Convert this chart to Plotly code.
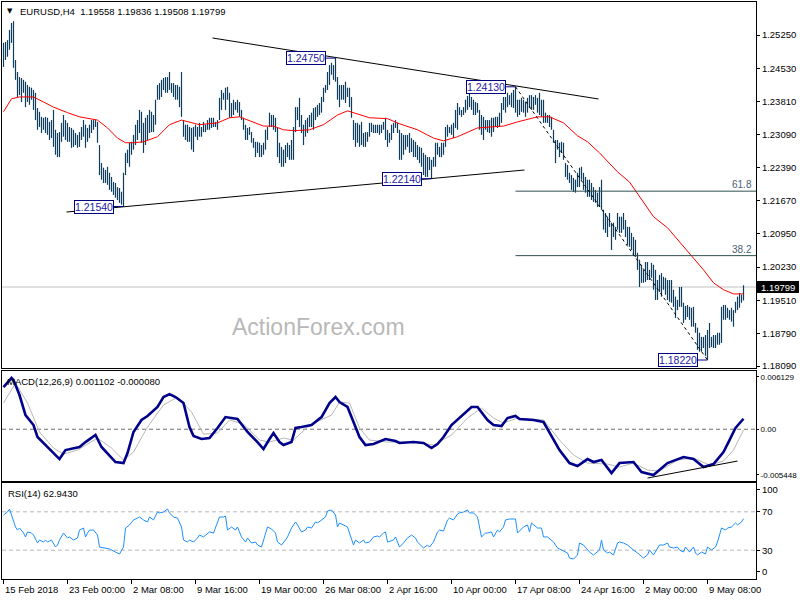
import plotly.graph_objects as go

# ---------------- data (EURUSD H4) ----------------
highs = [
1.2508,1.2510,1.2514,1.2536,1.2551,1.2555,1.2471,1.2445,1.2434,1.2432,
1.2428,1.2424,1.2417,1.2413,1.2411,1.2406,1.2400,1.2367,1.2359,1.2348,
1.2346,1.2348,1.2346,1.2337,1.2341,1.2363,1.2320,1.2313,1.2315,1.2335,
1.2352,1.2341,1.2335,1.2326,1.2324,1.2320,1.2313,1.2309,1.2315,1.2326,
1.2341,1.2331,1.2324,1.2331,1.2341,1.2341,1.2341,1.2337,1.2287,1.2248,
1.2238,1.2233,1.2240,1.2227,1.2218,1.2207,1.2205,1.2196,1.2194,1.2186,
1.2227,1.2270,1.2277,1.2292,1.2294,1.2309,1.2331,1.2341,1.2363,1.2359,
1.2335,1.2346,1.2352,1.2363,1.2359,1.2352,1.2385,1.2417,1.2421,1.2428,
1.2432,1.2434,1.2434,1.2445,1.2421,1.2421,1.2417,1.2417,1.2413,1.2445,
1.2341,1.2331,1.2331,1.2326,1.2324,1.2326,1.2331,1.2326,1.2335,1.2326,
1.2337,1.2331,1.2341,1.2346,1.2346,1.2346,1.2337,1.2341,1.2389,1.2406,
1.2400,1.2411,1.2413,1.2400,1.2378,1.2385,1.2380,1.2385,1.2380,1.2363,
1.2346,1.2331,1.2324,1.2326,1.2315,1.2302,1.2294,1.2294,1.2292,1.2287,
1.2292,1.2320,1.2326,1.2357,1.2352,1.2352,1.2346,1.2324,1.2292,1.2283,
1.2277,1.2287,1.2292,1.2287,1.2298,1.2326,1.2369,1.2369,1.2389,1.2352,
1.2331,1.2341,1.2346,1.2352,1.2357,1.2367,1.2369,1.2374,1.2378,1.2391,
1.2411,1.2417,1.2445,1.2460,1.2465,1.2460,1.2475,1.2434,1.2417,1.2417,
1.2417,1.2424,1.2411,1.2411,1.2391,1.2341,1.2335,1.2335,1.2331,1.2337,
1.2313,1.2315,1.2315,1.2335,1.2335,1.2331,1.2331,1.2331,1.2331,1.2331,
1.2337,1.2346,1.2320,1.2313,1.2331,1.2335,1.2341,1.2335,1.2320,1.2313,
1.2309,1.2309,1.2309,1.2313,1.2302,1.2298,1.2294,1.2287,1.2283,1.2281,
1.2270,1.2266,1.2261,1.2261,1.2255,1.2261,1.2292,1.2292,1.2283,1.2292,
1.2292,1.2326,1.2331,1.2326,1.2331,1.2335,1.2363,1.2378,1.2369,1.2363,
1.2369,1.2385,1.2393,1.2398,1.2391,1.2385,1.2380,1.2378,1.2363,1.2352,
1.2348,1.2341,1.2341,1.2341,1.2346,1.2346,1.2348,1.2348,1.2357,1.2378,
1.2391,1.2391,1.2400,1.2395,1.2400,1.2406,1.2413,1.2385,1.2385,1.2389,
1.2385,1.2380,1.2389,1.2395,1.2395,1.2391,1.2395,1.2389,1.2400,1.2385,
1.2385,1.2357,1.2352,1.2352,1.2348,1.2320,1.2298,1.2298,1.2292,1.2294,
1.2292,1.2248,1.2244,1.2227,1.2222,1.2216,1.2212,1.2227,1.2238,1.2240,
1.2227,1.2218,1.2212,1.2212,1.2205,1.2196,1.2190,1.2184,1.2196,1.2212,
1.2147,1.2140,1.2132,1.2140,1.2119,1.2119,1.2110,1.2140,1.2132,1.2132,
1.2140,1.2125,1.2110,1.2110,1.2097,1.2088,1.2082,1.2054,1.2039,1.2028,
1.2017,1.2034,1.2034,1.2017,1.2032,1.2028,1.2017,1.1995,1.2006,1.2010,
1.2002,1.2000,1.1995,1.1995,1.1995,1.1974,1.1959,1.1952,1.1980,1.1980,
1.1946,1.1939,1.1941,1.1937,1.1935,1.1937,1.1902,1.1892,1.1881,1.1872,
1.1872,1.1876,1.1887,1.1902,1.1872,1.1876,1.1876,1.1881,1.1881,1.1937,
1.1941,1.1941,1.1935,1.1930,1.1935,1.1930,1.1948,1.1959,1.1967,1.1963,
1.19836]
lows = [
1.2456,1.2471,1.2478,1.2493,1.2508,1.2454,1.2428,1.2391,1.2395,1.2380,
1.2400,1.2369,1.2380,1.2374,1.2385,1.2363,1.2341,1.2320,1.2326,1.2313,
1.2320,1.2313,1.2309,1.2298,1.2302,1.2283,1.2266,1.2261,1.2261,1.2294,
1.2305,1.2298,1.2294,1.2294,1.2281,1.2283,1.2287,1.2281,1.2283,1.2298,
1.2305,1.2281,1.2294,1.2302,1.2313,1.2320,1.2326,1.2292,1.2222,1.2212,
1.2205,1.2205,1.2201,1.2190,1.2186,1.2179,1.2173,1.2168,1.2162,1.2158,
1.2154,1.2222,1.2248,1.2240,1.2266,1.2277,1.2287,1.2298,1.2313,1.2292,
1.2270,1.2287,1.2298,1.2313,1.2315,1.2315,1.2331,1.2385,1.2385,1.2391,
1.2406,1.2400,1.2400,1.2406,1.2400,1.2391,1.2385,1.2385,1.2369,1.2348,
1.2305,1.2298,1.2294,1.2294,1.2277,1.2272,1.2305,1.2298,1.2305,1.2305,
1.2315,1.2315,1.2320,1.2320,1.2324,1.2326,1.2326,1.2320,1.2341,1.2363,
1.2385,1.2363,1.2385,1.2346,1.2348,1.2352,1.2363,1.2357,1.2348,1.2341,
1.2320,1.2298,1.2298,1.2309,1.2292,1.2281,1.2261,1.2270,1.2261,1.2261,
1.2266,1.2277,1.2298,1.2326,1.2326,1.2320,1.2315,1.2261,1.2248,1.2240,
1.2240,1.2248,1.2261,1.2255,1.2255,1.2255,1.2315,1.2341,1.2326,1.2313,
1.2287,1.2305,1.2313,1.2326,1.2326,1.2320,1.2341,1.2348,1.2352,1.2357,
1.2380,1.2400,1.2406,1.2417,1.2439,1.2428,1.2424,1.2385,1.2369,1.2385,
1.2385,1.2378,1.2391,1.2369,1.2346,1.2298,1.2283,1.2292,1.2283,1.2287,
1.2283,1.2283,1.2294,1.2305,1.2315,1.2313,1.2313,1.2313,1.2309,1.2313,
1.2320,1.2298,1.2283,1.2292,1.2298,1.2313,1.2324,1.2313,1.2255,1.2255,
1.2266,1.2277,1.2283,1.2270,1.2272,1.2261,1.2261,1.2255,1.2248,1.2240,
1.2222,1.2218,1.2218,1.2233,1.2214,1.2240,1.2240,1.2266,1.2261,1.2261,
1.2266,1.2283,1.2305,1.2313,1.2309,1.2302,1.2324,1.2320,1.2352,1.2348,
1.2352,1.2357,1.2363,1.2369,1.2363,1.2352,1.2352,1.2357,1.2320,1.2309,
1.2298,1.2320,1.2315,1.2313,1.2305,1.2315,1.2326,1.2324,1.2326,1.2335,
1.2363,1.2357,1.2369,1.2374,1.2369,1.2367,1.2357,1.2348,1.2352,1.2359,
1.2357,1.2348,1.2357,1.2367,1.2363,1.2363,1.2374,1.2357,1.2352,1.2348,
1.2335,1.2335,1.2335,1.2326,1.2320,1.2292,1.2248,1.2277,1.2261,1.2270,
1.2255,1.2218,1.2212,1.2205,1.2190,1.2186,1.2184,1.2196,1.2196,1.2212,
1.2190,1.2184,1.2175,1.2175,1.2168,1.2164,1.2162,1.2153,1.2153,1.2147,
1.2104,1.2097,1.2088,1.2110,1.2060,1.2088,1.2082,1.2104,1.2097,1.2097,
1.2104,1.2088,1.2071,1.2067,1.2060,1.2049,1.2045,1.2017,1.1980,1.1989,
1.1989,1.1991,1.1995,1.1995,1.2000,1.1974,1.1952,1.1952,1.1969,1.1959,
1.1974,1.1963,1.1952,1.1948,1.1946,1.1937,1.1913,1.1930,1.1937,1.1937,
1.1902,1.1909,1.1915,1.1909,1.1894,1.1894,1.1881,1.1844,1.1840,1.1840,
1.1848,1.1831,1.1822,1.1848,1.1850,1.1848,1.1848,1.1855,1.1855,1.1859,
1.1909,1.1909,1.1913,1.1909,1.1905,1.1894,1.1924,1.1930,1.1935,1.1946,
1.19508]
last_ohlc = [1.19558, 1.19836, 1.19508, 1.19799]

ma_idx = [0,4,8,15,20,25,32,38,47,52,57,61,65,70,77,83,89,98,107,113,118,125,130,135,140,145,153,160,167,172,
          178,183,192,198,207,215,220,227,237,250,257,267,273,280,287,292,298,307,313,318,325,332,340,345,350,355,360,365,370]
ma_val = [1.2359,1.2387,1.2391,1.2391,1.2380,1.2369,1.2357,1.2348,1.2341,1.2324,1.2302,1.2292,1.2292,1.2294,1.2305,
          1.2331,1.2341,1.2331,1.2335,1.2346,1.2348,1.2337,1.2328,1.2328,1.2320,1.2318,1.2320,1.2331,1.2352,1.2361,
          1.2352,1.2346,1.2344,1.2333,1.2320,1.2302,1.2296,1.2305,1.2324,1.2328,1.2337,1.2348,1.2348,1.2335,1.2307,
          1.2294,1.2270,1.2229,1.2207,1.2175,1.2132,1.2108,1.2067,1.2043,1.2017,1.1989,1.1974,1.1965,1.1965]

macd_idx = [0,4,5,8,11,15,17,20,24,28,31,35,38,41,46,49,52,56,60,62,65,69,72,77,80,83,86,90,93,95,99,103,107,111,117,
            122,127,130,133,135,138,140,144,146,149,154,159,163,166,168,172,175,178,181,185,191,196,198,205,210,214,217,
            220,224,228,234,237,242,245,249,252,256,258,265,270,273,278,283,287,292,295,299,304,308,315,319,325,332,340,
            345,350,355,360,363,366,370]
macd_val = [0.00444,0.00539,0.00518,0.00360,0.00149,0.00044,-0.00082,-0.00145,-0.00219,-0.00314,-0.00219,-0.00198,
            -0.00187,-0.00135,-0.00061,-0.00187,-0.00250,-0.00345,-0.00356,-0.00250,-0.00029,0.00097,0.00139,0.00234,
            0.00339,0.00370,0.00339,0.00276,0.00023,-0.00072,-0.00103,-0.00093,0.00013,0.00128,0.00107,-0.00029,-0.00135,
            -0.00208,-0.00103,-0.00040,-0.00135,-0.00166,-0.00135,0.00013,0.00023,0.00044,0.00128,0.00276,0.00339,0.00286,
            0.00234,0.00065,-0.00082,-0.00166,-0.00156,-0.00103,-0.00124,-0.00145,-0.00135,-0.00145,-0.00198,-0.00156,
            -0.00082,0.00044,0.00118,0.00234,0.00234,0.00097,0.00044,0.00034,0.00118,0.00139,0.00107,0.00097,0.00076,
            -0.00029,-0.00219,-0.00356,-0.00387,-0.00314,-0.00345,-0.00324,-0.00461,-0.00356,-0.00345,-0.00450,-0.00482,
            -0.00356,-0.00293,-0.00314,-0.00398,-0.00366,-0.00240,-0.00114,0.00013,0.001102]
sig_idx = [0,6,12,18,25,30,37,47,54,60,65,72,80,87,94,100,107,113,120,128,133,140,145,153,164,168,173,178,183,192,198,
           205,215,224,232,239,245,250,257,270,278,285,292,302,308,315,322,328,337,345,353,360,365,370]
sig_val = [0.00276,0.00486,0.00276,-0.00029,-0.00198,-0.00261,-0.00219,-0.00093,-0.00198,-0.00324,-0.00240,0.00023,
           0.00255,0.00339,0.00181,-0.00051,-0.00040,0.00097,0.00055,-0.00114,-0.00135,-0.00093,-0.00114,0.00044,0.00149,
           0.00286,0.00276,0.00013,-0.00114,-0.00135,-0.00135,-0.00135,-0.00166,-0.00061,0.00118,0.00223,0.00118,0.00065,
           0.00118,0.00097,-0.00114,-0.00272,-0.00356,-0.00366,-0.00398,-0.00356,-0.00429,-0.00440,-0.00324,-0.00303,
           -0.00377,-0.00335,-0.00219,-0.00008]

rsi_idx = [0,2,3,4,5,6,7,8,10,11,12,14,15,17,18,20,21,22,24,26,27,28,30,32,33,35,37,38,40,41,42,43,45,47,48,51,53,56,58,
           60,61,63,65,67,68,70,72,73,75,77,78,80,82,83,85,87,88,89,90,92,93,95,97,98,100,102,103,105,107,108,110,111,
           112,114,116,117,119,121,122,124,126,127,129,131,132,134,136,137,139,141,142,144,146,147,149,151,152,154,156,
           157,159,161,162,164,166,167,168,170,172,173,175,176,178,180,181,183,185,187,188,190,191,192,195,196,198,200,
           202,204,206,207,210,212,213,215,217,218,220,222,223,225,227,228,230,232,233,235,237,238,239,241,242,244,245,
           247,248,250,251,253,256,257,259,260,262,263,264,266,267,269,270,272,275,277,279,282,283,285,287,288,290,292,
           293,295,297,298,299,300,302,303,305,307,308,310,312,313,315,317,320,322,323,325,327,328,330,332,333,335,337,
           338,340,341,343,345,346,347,349,351,352,354,356,357,359,361,362,364,366,367,369,370]
rsi_val = [66.7,69.8,72.9,66.7,58.3,54.2,51.0,53.1,47.9,43.8,49.0,47.9,45.8,37.5,40.6,38.5,40.6,38.5,40.6,33.3,35.4,40.6,
           47.9,42.7,43.8,40.6,42.7,51.0,53.1,43.8,47.9,51.0,51.0,45.8,33.3,32.3,31.3,28.1,26.0,33.3,53.1,56.3,61.5,63.5,
           64.6,61.5,59.4,64.6,61.5,69.8,68.8,69.8,72.9,68.8,64.6,63.5,59.4,54.2,40.6,38.5,40.6,38.5,42.7,45.8,43.8,47.9,
           49.0,47.9,59.4,64.6,64.6,65.6,51.0,54.2,51.0,54.2,43.8,38.5,42.7,37.5,38.5,35.4,33.3,47.9,54.2,52.1,47.9,38.5,
           35.4,40.6,43.8,53.1,59.4,56.3,49.0,51.0,54.2,53.1,59.4,58.3,61.5,64.6,70.8,71.9,66.7,54.2,58.3,56.3,54.2,47.9,
           35.4,40.6,37.5,40.6,37.5,38.5,43.8,44.8,43.8,47.9,49.0,38.5,40.6,43.8,33.3,37.5,42.7,45.8,42.7,38.5,32.3,35.4,
           33.3,38.5,49.0,51.0,50.0,61.5,63.5,61.5,67.7,68.8,69.8,71.9,68.8,68.8,64.6,54.2,43.8,47.9,47.9,49.0,43.8,51.0,
           49.0,54.2,61.5,62.5,62.5,47.9,52.1,54.2,56.3,49.0,58.3,54.2,53.1,53.1,43.8,43.8,38.5,32.3,30.2,27.1,21.9,20.8,
           25.0,37.5,35.4,30.2,28.1,25.0,28.1,30.2,40.6,30.2,27.1,28.1,25.0,37.5,38.5,37.5,35.4,33.3,30.2,27.1,21.9,25.0,
           30.2,25.0,32.3,35.4,35.4,37.5,33.3,32.3,33.3,30.2,28.1,33.3,28.1,33.3,27.1,25.0,28.1,26.0,33.3,30.2,33.3,38.5,
           53.1,51.0,53.1,54.2,58.3,56.3,59.4,62.943]
macd_last = [0.001102, -0.000080]
rsi_last = 62.9430

price_ticks = [1.2525, 1.2453, 1.2381, 1.2309, 1.2239, 1.2167, 1.2095, 1.2023, 1.1951, 1.1879, 1.1809]
price_ticktext = ["1.25250", "1.24530", "1.23810", "1.23090", "1.22390", "1.21670", "1.20950",
                  "1.20230", "1.19510", "1.18790", "1.18090"]
date_idx = [0, 32, 64, 96, 128, 160, 192, 224, 256, 288, 320, 352]
date_text = ["15 Feb 2018", "23 Feb 00:00", "2 Mar 08:00", "9 Mar 16:00", "19 Mar 00:00", "26 Mar 08:00",
             "2 Apr 16:00", "10 Apr 00:00", "17 Apr 08:00", "24 Apr 16:00", "2 May 00:00", "9 May 08:00"]

# swing labels
swing_idx = [60, 166, 214, 256, 352]
swing_val = [1.2154, 1.2475, 1.2214, 1.2413, 1.1822]
fib_hi = (256, 1.2413)
fib_lo = (352, 1.1822)
fib_levels = [61.8, 38.2]
# trendlines: (idx0, price0, idx1, price1)
upper_tl = (104.5, 1.25185, 297.5, 1.23866)
lower_tl = (31.5, 1.21421, 260.5, 1.22330)
macd_tl = (322, -0.005136, 367, -0.003347)

macd_range = [-0.005448, 0.006129]
rsi_range = [0, 100]
price_range = [1.18047, 1.25964]

# ---------------- styling ----------------
FONT = "Liberation Sans, Arial, sans-serif"
BAR = "#0f3d5e"
NAVY = "#000080"

fig = go.Figure()
bx, by = [], []
for i, (h, l) in enumerate(zip(highs, lows)):
    bx += [i, i, None]
    by += [h, l, None]
fig.add_trace(go.Scatter(x=bx, y=by, mode="lines", line=dict(color=BAR, width=1.2), hoverinfo="skip",
                         xaxis="x", yaxis="y"))
fig.add_trace(go.Scatter(x=ma_idx, y=ma_val, mode="lines", line=dict(color="#ff0000", width=1),
                         xaxis="x", yaxis="y"))
fig.add_trace(go.Scatter(x=sig_idx, y=sig_val, mode="lines", line=dict(color="#b8b8b8", width=1),
                         xaxis="x2", yaxis="y2"))
fig.add_trace(go.Scatter(x=macd_idx, y=macd_val, mode="lines", line=dict(color="#00008b", width=2.6),
                         xaxis="x2", yaxis="y2"))
fig.add_trace(go.Scatter(x=rsi_idx, y=rsi_val, mode="lines", line=dict(color="#1e90ff", width=1),
                         xaxis="x3", yaxis="y3"))

N = len(highs)
shapes = []
ann = []
# current price line
shapes.append(dict(type="line", xref="paper", yref="y", x0=0, x1=1, y0=last_ohlc[3], y1=last_ohlc[3],
                   line=dict(color="#c0c0c0", width=1), layer="below"))
# fib
rng = fib_hi[1] - fib_lo[1]
for lv in fib_levels:
    yv = fib_lo[1] + rng * lv / 100.0
    shapes.append(dict(type="line", xref="x", yref="y", x0=fib_hi[0], x1=N + 6, y0=yv, y1=yv,
                       line=dict(color="#2f4f4f", width=1)))
    ann.append(dict(xref="paper", yref="y", x=1, y=yv, xanchor="right", yanchor="bottom", xshift=-2, yshift=-1,
                    text=f"{lv:.1f}", showarrow=False, font=dict(family=FONT, size=10, color="#4a6272")))
# trendlines
for tl, yr in ((upper_tl, "y"), (lower_tl, "y")):
    shapes.append(dict(type="line", xref="x", yref=yr, x0=tl[0], y0=tl[1], x1=tl[2], y1=tl[3],
                       line=dict(color="black", width=1)))
shapes.append(dict(type="line", xref="x", yref="y", x0=fib_hi[0], y0=fib_hi[1], x1=fib_lo[0], y1=fib_lo[1],
                   line=dict(color="black", width=1, dash="3px,3px")))
shapes.append(dict(type="line", xref="x2", yref="y2", x0=macd_tl[0], y0=macd_tl[1], x1=macd_tl[2], y1=macd_tl[3],
                   line=dict(color="black", width=1)))
# levels
shapes.append(dict(type="line", xref="paper", yref="y2", x0=0, x1=1, y0=0, y1=0,
                   line=dict(color="#707070", width=1, dash="4px,3px"), layer="below"))
for lv in (70, 30):
    shapes.append(dict(type="line", xref="paper", yref="y3", x0=0, x1=1, y0=lv, y1=lv,
                       line=dict(color="#b8b8b8", width=1, dash="4px,3px"), layer="below"))
# swing labels
for si, sv in zip(swing_idx, swing_val):
    shapes.append(dict(type="line", xref="x", yref="y", x0=si - 5, x1=si, y0=sv, y1=sv,
                       line=dict(color=NAVY, width=1)))
    ann.append(dict(xref="x", yref="y", x=si - 5, y=sv, xanchor="right", yanchor="middle",
                    text=f"{sv:.5f}", showarrow=False, bgcolor="white", bordercolor=NAVY, borderwidth=1,
                    borderpad=0, font=dict(family=FONT, size=10.5, color="#1a1aa6")))

# last-price tag on axis
pp = (price_range[1] - price_range[0]) / 366.0
shapes.append(dict(type="rect", xref="paper", yref="y", x0=1.0013, x1=1.057, y0=last_ohlc[3] - 6 * pp,
                   y1=last_ohlc[3] + 6 * pp, fillcolor="black", line=dict(width=0)))
ann.append(dict(xref="paper", yref="y", x=1.0035, y=last_ohlc[3], xanchor="left", yanchor="middle",
                text=f"{last_ohlc[3]:.5f}", showarrow=False, font=dict(family=FONT, size=9.5, color="white")))

# headers
ann.append(dict(xref="paper", yref="paper", x=0.004, y=1, xanchor="left", yanchor="top", yshift=-3,
                text="▼", showarrow=False, font=dict(family="DejaVu Sans", size=7, color="black")))
ann.append(dict(xref="paper", yref="paper", x=0.021, y=1, xanchor="left", yanchor="top", yshift=-2,
                text="EURUSD,H4\u00a0\u00a0" + " ".join(f"{v:.5f}" for v in last_ohlc), showarrow=False,
                font=dict(family=FONT, size=9.5, color="black")))
D_MAIN = [0.36568, 1.0]
D_MACD = [0.16984, 0.36049]
D_RSI = [0.0, 0.16638]
ann.append(dict(xref="paper", yref="paper", x=0.004, y=D_MACD[1], xanchor="left", yanchor="top", yshift=-3,
                text=f"MACD(12,26,9) {macd_last[0]:.6f} {macd_last[1]:.6f}", showarrow=False,
                font=dict(family=FONT, size=9.5, color="black")))
ann.append(dict(xref="paper", yref="paper", x=0.005, y=D_RSI[1], xanchor="left", yanchor="top", yshift=-3,
                text=f"RSI(14) {rsi_last:.4f}", showarrow=False, font=dict(family=FONT, size=9.5, color="black")))
ann.append(dict(xref="paper", yref="paper", x=0.4191, y=0.4367, xanchor="center", yanchor="middle",
                text="ActionForex.com", showarrow=False, font=dict(family=FONT, size=23, color="#b8b8b8")))
for di, dt in zip(date_idx, date_text):
    ann.append(dict(xref="x3", yref="paper", x=di, y=0, xanchor="left", yanchor="top", xshift=-1, yshift=-3,
                    text=dt, showarrow=False, font=dict(family=FONT, size=9.5, color="black")))

# axis tick placement (end labels sit inside the panel like MT4)
m_in = 6 * (macd_range[1] - macd_range[0]) / 110.0
macd_tv = [macd_range[1] - m_in, 0, macd_range[0] + m_in]
macd_tt = [f"{macd_range[1]:.6f}", "0.00", f"{macd_range[0]:.6f}"]
r_in = 7 * (rsi_range[1] - rsi_range[0]) / 96.0
rsi_tv = [rsi_range[1] - r_in, 70, 30, rsi_range[0] + r_in]
rsi_tt = ["100", "70", "30", "0"]

tickfont = dict(family=FONT, size=9.5, color="black")
xcommon = dict(showline=True, mirror=True, linecolor="black", linewidth=1, showgrid=False, zeroline=False,
               automargin=False)
ycommon = dict(side="right", showline=True, mirror=True, linecolor="black", linewidth=1, showgrid=False,
               zeroline=False, ticks="outside", tickcolor="black", automargin=False)

fig.update_layout(
    width=800, height=600, margin=dict(l=2, r=44, t=2, b=21, autoexpand=False),
    paper_bgcolor="white", plot_bgcolor="white", showlegend=False, hovermode=False,
    xaxis=dict(domain=[0, 1], anchor="y", range=[-0.75, 376.25], showticklabels=False, ticks="", **xcommon),
    xaxis2=dict(domain=[0, 1], anchor="y2", matches="x", showticklabels=False, ticks="", **xcommon),
    xaxis3=dict(domain=[0, 1], anchor="y3", matches="x", showticklabels=False, ticks="outside", ticklen=4,
                tickcolor="black", tickvals=date_idx, **xcommon),
    yaxis=dict(domain=D_MAIN, anchor="x", range=price_range, tickvals=price_ticks, ticktext=price_ticktext,
               ticklen=3, tickfont=tickfont, **ycommon),
    yaxis2=dict(domain=D_MACD, anchor="x2", range=macd_range, tickvals=macd_tv, ticktext=macd_tt,
                ticklen=2, tickfont=dict(family=FONT, size=8, color="black"), **ycommon),
    yaxis3=dict(domain=D_RSI, anchor="x3", range=rsi_range, tickvals=rsi_tv, ticktext=rsi_tt,
                ticklen=3, tickfont=tickfont, **ycommon),
    shapes=shapes, annotations=ann,
)
fig.write_html("out.html", config={"displayModeBar": False},
               post_script="document.body.style.margin='0';document.body.style.padding='0';")
